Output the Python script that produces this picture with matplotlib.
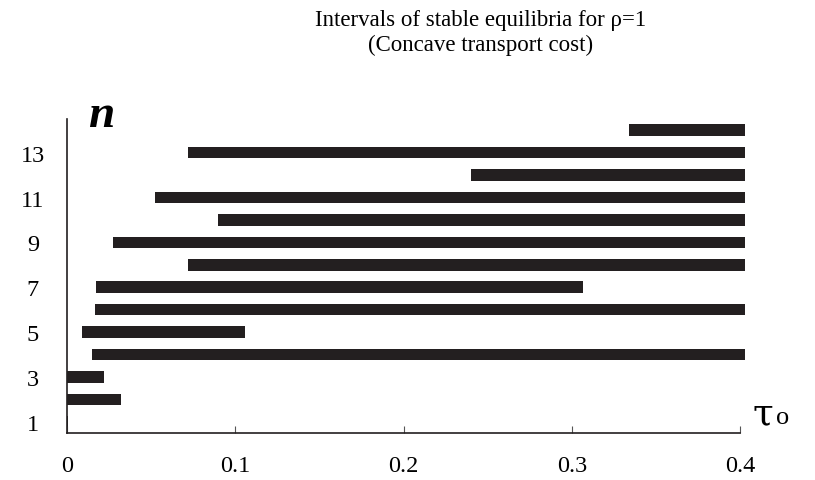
import matplotlib
matplotlib.use("Agg")
import matplotlib.pyplot as plt

# stable-equilibrium intervals of tau0 for each n
n_values = [1, 2, 3, 4, 5, 6, 7, 8, 9, 10, 11, 12, 13, 14]
tau_start = [0.0, 0.0, 0.0, 0.0149, 0.0089, 0.0166, 0.0172,
             0.0721, 0.0275, 0.0899, 0.0523, 0.2399, 0.0717, 0.3343]
tau_end = [0.0007, 0.0319, 0.0220, 0.403, 0.1058, 0.403, 0.3068,
           0.403, 0.403, 0.403, 0.4027, 0.403, 0.403, 0.403]

x_ticks = [0, 0.1, 0.2, 0.3, 0.4]
x_tick_labels = ["0", "0.1", "0.2", "0.3", "0.4"]
y_ticks = [1, 3, 5, 7, 9, 11, 13]

plt.rcParams["font.family"] = ["Liberation Serif", "DejaVu Serif"]

fig = plt.figure(figsize=(8.15, 4.81), dpi=100)
ax = fig.add_axes([0.0822, 0.0977, 0.8258, 0.6528])

widths = [e - s for s, e in zip(tau_start, tau_end)]
ax.barh(n_values, widths, left=tau_start, height=0.52,
        color="#231f20", clip_on=False)

ax.set_xlim(0, 0.4)
ax.set_ylim(0.5, 14.5)

for side in ["top", "right"]:
    ax.spines[side].set_visible(False)
for side in ["left", "bottom"]:
    ax.spines[side].set_color("#231f20")
    ax.spines[side].set_linewidth(1.2)

ax.set_xticks(x_ticks)
ax.set_xticklabels(x_tick_labels, fontsize=17.5)
ax.tick_params(axis="x", direction="in", length=5, width=0.8,
               color="#555555", pad=16)

ax.set_yticks(y_ticks)
ax.set_yticklabels([str(v) for v in y_ticks], fontsize=17.5)
ax.tick_params(axis="y", length=0, pad=24.5)
for lab in ax.get_yticklabels():
    lab.set_horizontalalignment("center")

fig.text(0.59, 0.958, "Intervals of stable equilibria for \u03c1=1",
         ha="center", va="center", fontsize=16.5)
fig.text(0.59, 0.906, "(Concave transport cost)",
         ha="center", va="center", fontsize=16.5)

fig.text(0.124, 0.758, "n", ha="center", va="center",
         fontsize=34, style="italic", fontweight="bold")
fig.text(0.923, 0.118, "\u03c4", ha="left", va="baseline", fontsize=27,
         family="DejaVu Serif")
fig.text(0.952, 0.118, "o", ha="left", va="baseline", fontsize=19)

fig.savefig("out.png", dpi=100)
